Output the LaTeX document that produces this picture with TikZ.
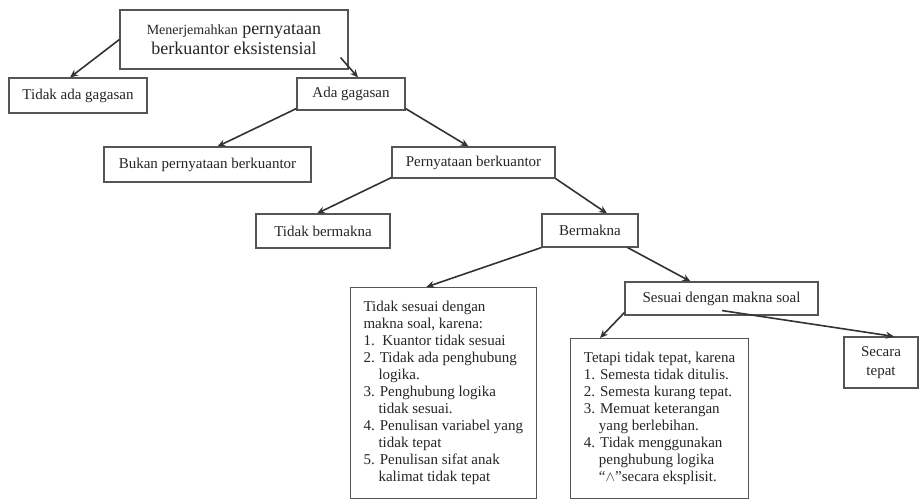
\documentclass[tikz,border=0pt]{standalone}
\usepackage{fontspec}
\setmainfont{Liberation Serif}
\usetikzlibrary{arrows.meta}
\definecolor{boxgray}{HTML}{555555}
\definecolor{linegray}{HTML}{333333}
\definecolor{textgray}{HTML}{262626}
\begin{document}
\begin{tikzpicture}[x=1pt,y=-1pt,
  box/.style={draw=boxgray, line width=1.1pt, inner sep=0pt, text=textgray,
    font=\fontsize{15}{17}\selectfont},
  listbox/.style={box, anchor=north west, align=left, inner xsep=13pt},
  arr/.style={draw=linegray, line width=1.6pt, -{Stealth[length=8pt,width=7pt]}}]
\useasboundingbox[fill=white] (0,0) rectangle (920,500);

\node[box, minimum width=228pt, minimum height=59pt, align=center,
  font=\fontsize{18}{20}\selectfont] (top) at (234,39.5)
  {{\fontsize{14}{20}\selectfont Menerjemahkan} pernyataan\\berkuantor eksistensial};
\node[box, minimum width=138pt, minimum height=35pt] (tidakada) at (78,95.5) {Tidak ada gagasan};
\node[box, minimum width=108pt, minimum height=32pt] (ada) at (351,94) {Ada gagasan};
\node[box, minimum width=207pt, minimum height=35pt] (bukan) at (207.5,164.5) {Bukan pernyataan berkuantor};
\node[box, minimum width=163pt, minimum height=31pt] (pern) at (473.5,162.5) {Pernyataan berkuantor};
\node[box, minimum width=134pt, minimum height=34pt] (tbm) at (323,231) {Tidak bermakna};
\node[box, minimum width=96pt, minimum height=33pt] (bm) at (590,230.5) {Bermakna};
\node[box, minimum width=193pt, minimum height=33pt] (sesuai) at (721.5,298.5) {Sesuai dengan makna soal};
\node[box, minimum width=74pt, minimum height=51pt, align=center,
  font=\fontsize{15}{19}\selectfont] (secara) at (881,362.5) {Secara\\tepat};

\node[listbox, minimum width=184pt, minimum height=211pt] (kiri) at (350,287)
  {Tidak sesuai dengan\\
   makna soal, karena:\\
   1.\ \ Kuantor tidak sesuai\\
   2. Tidak ada penghubung\\
   \hspace*{1em}logika.\\
   3. Penghubung logika\\
   \hspace*{1em}tidak sesuai.\\
   4. Penulisan variabel yang\\
   \hspace*{1em}tidak tepat\\
   5. Penulisan sifat anak\\
   \hspace*{1em}kalimat tidak tepat};
\node[listbox, minimum width=178pt, minimum height=160pt] (kanan) at (570,338)
  {Tetapi tidak tepat, karena\\
   1. Semesta tidak ditulis.\\
   2. Semesta kurang tepat.\\
   3. Memuat keterangan\\
   \hspace*{1em}yang berlebihan.\\
   4. Tidak menggunakan\\
   \hspace*{1em}penghubung logika\\
   \hspace*{1em}“$\wedge$”secara eksplisit.};

\draw[arr] (top.west) -- ([xshift=-8pt]tidakada.north);
\draw[arr] ([xshift=-8pt,yshift=12pt]top.south east) -- ([xshift=7pt]ada.north);
\draw[arr] ([yshift=2pt]ada.south west) -- ([xshift=10pt]bukan.north);
\draw[arr] ([yshift=2pt]ada.south east) -- ([xshift=-5pt]pern.north);
\draw[arr] ([yshift=1pt]pern.south west) -- ([xshift=-6pt]tbm.north);
\draw[arr] (pern.south east) -- ([xshift=17pt]bm.north);
\draw[arr] (bm.south west) -- ([xshift=-17pt]kiri.north);
\draw[arr] ([xshift=-11pt]bm.south east) -- ([xshift=-31pt]sesuai.north);
\draw[arr] ([yshift=3pt]sesuai.south west) -- ([xshift=30pt]kanan.north west);
\draw[arr] ([xshift=0.5pt,yshift=5pt]sesuai.south) -- ([xshift=13pt]secara.north);
\end{tikzpicture}
\end{document}
